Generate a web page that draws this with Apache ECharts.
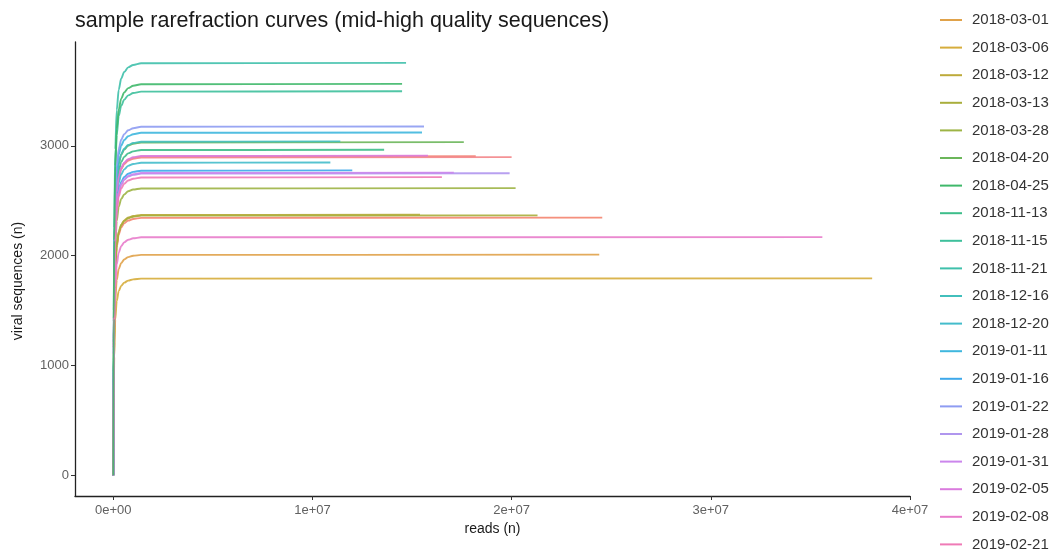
<!DOCTYPE html>
<html>
<head>
<meta charset="utf-8">
<script src="https://cdn.jsdelivr.net/npm/echarts@6/dist/echarts.min.js"></script>
<style>
html,body{margin:0;padding:0;background:#fff;}
#chart{width:1050px;height:550px;}
</style>
</head>
<body>
<div id="chart"></div>
<script>
// ---- data ----
const riseReads = [0, 25000, 50000, 100000, 175000, 275000, 400000, 550000, 750000, 1000000, 1400000];

const sampleNames = [
  '2018-03-01','2018-03-06','2018-03-12','2018-03-13','2018-03-28','2018-04-20',
  '2018-04-25','2018-11-13','2018-11-15','2018-11-21','2018-12-16','2018-12-20',
  '2019-01-11','2019-01-16','2019-01-22','2019-01-28','2019-01-31','2019-02-05',
  '2019-02-08','2019-02-21'
];
// samples whose legend entries fall outside the visible picture
const hiddenNames = ['earlier sample A', 'earlier sample B', 'later sample C'];

const endReads = [
  24400000, 38100000, 15400000, 21300000, 20200000, 17600000,
  14500000, 13600000, 14500000, 14700000, 11400000, 10900000,
  15500000, 12000000, 15600000, 19900000, 17100000, 15800000,
  35600000, 16500000
];
const hiddenEndReads = [24550000, 18200000, 20000000];

const c20180301 = [0, 803, 1205, 1586, 1777, 1877, 1932, 1964, 1986, 1998, 2006, 2008];
const c20180306 = [0, 717, 1075, 1416, 1586, 1676, 1724, 1753, 1772, 1783, 1790, 1792];
const c20180312 = [0, 949, 1423, 1874, 2099, 2218, 2282, 2320, 2346, 2360, 2370, 2372];
const c20180313 = [0, 946, 1420, 1869, 2094, 2212, 2276, 2314, 2340, 2354, 2364, 2366];
const c20180328 = [0, 1046, 1568, 2065, 2313, 2444, 2515, 2556, 2585, 2601, 2611, 2614];
const c20180420 = [0, 1213, 1820, 2396, 2684, 2836, 2918, 2966, 3000, 3018, 3030, 3033];
const c20180425 = [0, 1426, 2138, 2816, 3154, 3332, 3429, 3486, 3525, 3546, 3560, 3564];
const c20181113 = [0, 1186, 1778, 2342, 2623, 2771, 2851, 2899, 2931, 2949, 2961, 2964];
const c20181115 = [0, 1399, 2098, 2763, 3095, 3270, 3364, 3420, 3459, 3480, 3493, 3497];
const c20181121 = [0, 1502, 2253, 2966, 3323, 3511, 3612, 3672, 3714, 3736, 3751, 3755];
const c20181216 = [0, 1216, 1824, 2402, 2690, 2842, 2924, 2973, 3007, 3025, 3037, 3040];
const c20181220 = [0, 1139, 1709, 2250, 2520, 2663, 2740, 2785, 2817, 2834, 2845, 2848];
const c20190111 = [0, 1248, 1873, 2466, 2762, 2918, 3002, 3052, 3087, 3105, 3118, 3121];
const c20190116 = [0, 1110, 1666, 2193, 2457, 2596, 2671, 2715, 2745, 2762, 2773, 2776];
const c20190122 = [0, 1270, 1906, 2509, 2811, 2970, 3055, 3106, 3141, 3160, 3173, 3176];
const c20190128 = [0, 1100, 1649, 2172, 2433, 2570, 2645, 2689, 2719, 2735, 2746, 2749];
const c20190131 = [0, 1102, 1653, 2176, 2438, 2576, 2650, 2694, 2725, 2741, 2752, 2755];
const c20190205 = [0, 1164, 1746, 2299, 2575, 2721, 2799, 2846, 2878, 2895, 2907, 2910];
const c20190208 = [0, 867, 1301, 1713, 1919, 2027, 2086, 2120, 2144, 2157, 2166, 2168];
const c20190221 = [0, 1086, 1628, 2144, 2402, 2538, 2611, 2654, 2684, 2700, 2711, 2714];
const cHiddenA  = [0, 938, 1407, 1853, 2075, 2193, 2256, 2293, 2319, 2333, 2343, 2345];
const cHiddenB  = [0, 1162, 1742, 2294, 2570, 2715, 2794, 2840, 2872, 2889, 2901, 2904];
const cHiddenC  = [0, 1158, 1738, 2288, 2563, 2708, 2786, 2832, 2864, 2882, 2893, 2896];

const sampleCounts = [
  c20180301, c20180306, c20180312, c20180313, c20180328, c20180420,
  c20180425, c20181113, c20181115, c20181121, c20181216, c20181220,
  c20190111, c20190116, c20190122, c20190128, c20190131, c20190205,
  c20190208, c20190221
];
const hiddenCounts = [cHiddenA, cHiddenB, cHiddenC];

const xTickValues = [0, 10000000, 20000000, 30000000, 40000000];
const xTickLabels = ['0e+00', '1e+07', '2e+07', '3e+07', '4e+07'];
const yTickValues = [0, 1000, 2000, 3000];
const yTickLabels = ['0', '1000', '2000', '3000'];

// ---- styling ----
const sampleColors = [
  '#E0A24A', '#D6AD3C', '#BDAA3A', '#A9AE3C', '#9DB445', '#6BB65A',
  '#3FB86A', '#3DBD8A', '#3EC09C', '#3FC0AB', '#42BFBC', '#44BCCB',
  '#3FB7DE', '#3DA8EA', '#8E9CF2', '#B096EE', '#CB86EC', '#DA7BDE',
  '#E87CCB', '#EF7AB6'
];
const hiddenColors = ['#F4846F', '#F2877A', '#F3868A'];
// drawing order (last is on top); the 2018-04-25 curve sits on top of the shared rise
const drawOrder = [0,1,2,3,4,5,7,8,9,10,11,12,13,14,15,16,17,18,19,6];

const FONT = 'Liberation Sans, Arial, sans-serif';

function makeSeries(name, counts, end, color) {
  const pts = [];
  for (let i = 0; i < riseReads.length; i++) pts.push([riseReads[i], counts[i]]);
  pts.push([end, counts[counts.length - 1]]);
  return {
    name: name,
    type: 'line',
    data: pts,
    smooth: 0.3,
    smoothMonotone: 'x',
    showSymbol: false,
    symbol: 'none',
    color: color,
    lineStyle: { width: 1.9, color: color, opacity: 0.9 },
    emphasis: { disabled: true },
    animation: false
  };
}

const series = [];
for (let i = 0; i < hiddenNames.length; i++) {
  series.push(makeSeries(hiddenNames[i], hiddenCounts[i], hiddenEndReads[i], hiddenColors[i]));
}
for (const i of drawOrder) {
  series.push(makeSeries(sampleNames[i], sampleCounts[i], endReads[i], sampleColors[i]));
}

const chart = echarts.init(document.getElementById('chart'), null, { renderer: 'canvas' });
chart.setOption({
  backgroundColor: '#ffffff',
  animation: false,
  textStyle: { fontFamily: FONT },
  title: {
    text: 'sample rarefraction curves (mid-high quality sequences)',
    left: 70,
    top: 5,
    textStyle: { fontFamily: FONT, fontSize: 21.5, fontWeight: 'normal', color: '#1a1a1a' }
  },
  legend: {
    data: sampleNames,
    orient: 'vertical',
    left: 940,
    top: 12,
    height: 700,
    padding: 0,
    itemWidth: 22,
    itemHeight: 2,
    itemGap: 11.6,
    icon: 'rect',
    selectedMode: false,
    textStyle: { fontFamily: FONT, fontSize: 15, color: '#333', lineHeight: 16, padding: [0, 0, 0, 5] }
  },
  grid: { left: 75, right: 140, top: 42, bottom: 54 },
  xAxis: {
    type: 'value',
    min: -1920000,
    max: 40000000,
    name: 'reads (n)',
    nameLocation: 'middle',
    nameGap: 25,
    nameTextStyle: { fontFamily: FONT, fontSize: 14, color: '#1a1a1a' },
    axisLine: { show: true, onZero: false, lineStyle: { color: '#222', width: 1.3 } },
    axisTick: { show: true, length: 4, customValues: xTickValues, lineStyle: { color: '#333' } },
    axisLabel: {
      customValues: xTickValues,
      margin: 8,
      fontFamily: FONT, fontSize: 13, color: '#616161',
      formatter: function (v) { const k = xTickValues.indexOf(v); return k >= 0 ? xTickLabels[k] : ''; }
    },
    splitLine: { show: false }
  },
  yAxis: {
    type: 'value',
    min: -190,
    max: 3945,
    name: 'viral sequences (n)',
    nameLocation: 'middle',
    nameGap: 50,
    nameTextStyle: { fontFamily: FONT, fontSize: 14, color: '#1a1a1a', padding: [0, 24, 0, 0] },
    axisLine: { show: true, onZero: false, lineStyle: { color: '#222', width: 1.3 } },
    axisTick: { show: true, length: 4, customValues: yTickValues, lineStyle: { color: '#333' } },
    axisLabel: {
      customValues: yTickValues,
      margin: 6,
      fontFamily: FONT, fontSize: 13, color: '#616161',
      formatter: function (v) { const k = yTickValues.indexOf(v); return k >= 0 ? yTickLabels[k] : ''; }
    },
    splitLine: { show: false }
  },
  series: series
});
</script>
</body>
</html>
